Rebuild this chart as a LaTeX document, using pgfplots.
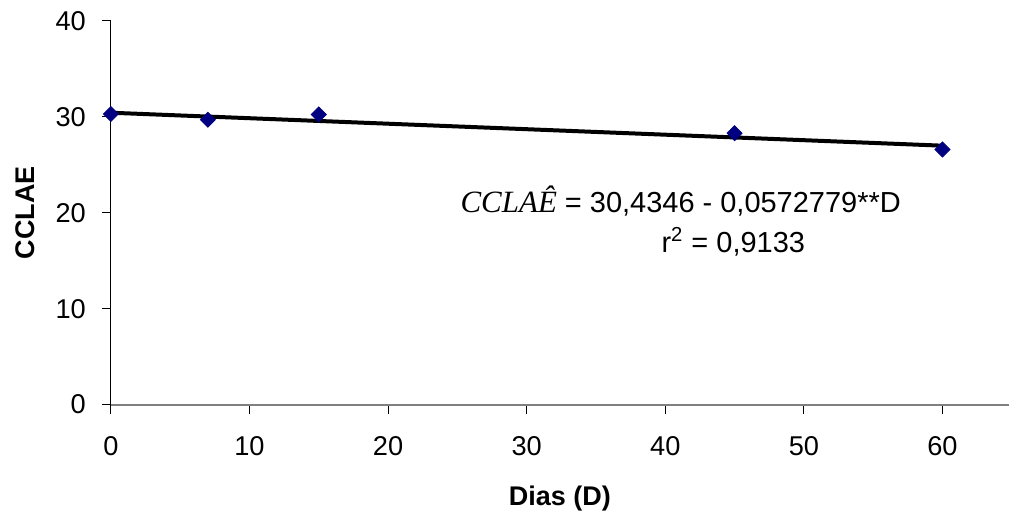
\documentclass[border=0pt]{standalone}
\usepackage{pgfplots}
\pgfplotsset{compat=1.18}
\usepackage{fontspec}
\setmainfont{Liberation Sans}
\newfontfamily\timesfont{Liberation Serif}
\definecolor{navyd}{RGB}{0,0,128}
\begin{document}
\begin{tikzpicture}
\begin{axis}[
  at={(0,0)}, anchor=south west,
  scale only axis, width=449.5pt, height=192pt,
  xmin=0, xmax=64.8, ymin=0, ymax=40,
  xtick={0,10,...,60}, ytick={0,10,...,40},
  axis x line*=bottom, axis y line*=left,
  x axis line style={draw=gray, line width=1pt, -},
  y axis line style={draw=black, line width=0.5pt, -},
  tick style={black, line width=0.5pt},
  tick align=outside, major tick length=4.5pt,
  /pgf/number format/assume math mode=true,
  ticklabel style={font=\fontsize{13.6}{15}\selectfont},
  yticklabel style={xshift=-4.5pt},
  xticklabel style={yshift=-8pt},
  xlabel={Dias (D)},
  ylabel={CCLAE},
  every axis x label/.style={at={(axis description cs:0.5,-0.2448)}, anchor=center, font=\fontsize{13.5}{16}\selectfont\bfseries},
  every axis y label/.style={at={(axis description cs:-0.0957,0.5)}, rotate=90, anchor=center, font=\fontsize{13.5}{16}\selectfont\bfseries},
  clip=false,
]
\addplot[only marks, mark=square*, mark size=2.65pt, mark options={rotate=45, fill=navyd, draw=navyd}]
  coordinates {(0,30.3) (7,29.7) (15,30.25) (45,28.3) (60,26.6)};
\addplot[black, line width=2pt] coordinates {(0,30.4346) (60,26.9979)};
\node[anchor=base west, inner sep=0pt, font=\fontsize{14.5}{16}\selectfont] at (axis cs:25.2,20.0)
  {{\timesfont\itshape\fontsize{15.5}{17}\selectfont CCLA\^{E}} = 30,4346 - 0,0572779**D};
\node[anchor=base west, inner sep=0pt, font=\fontsize{14.5}{16}\selectfont] at (axis cs:39.7,15.9)
  {r\textsuperscript{2} = 0,9133};
\end{axis}
\path[use as bounding box] (-55.5pt,-55pt) rectangle (449.5pt,202.5pt);
\end{tikzpicture}
\end{document}
